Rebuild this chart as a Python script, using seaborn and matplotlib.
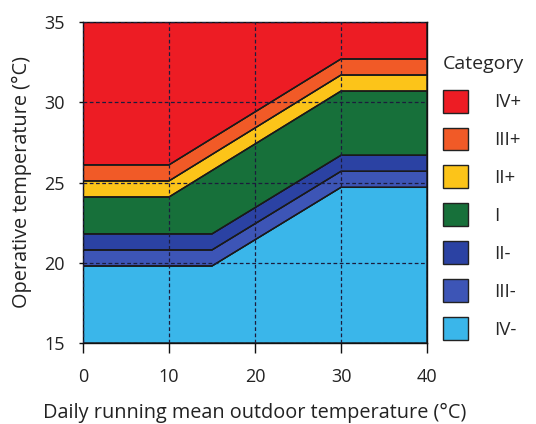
import numpy as np
import pandas as pd
import matplotlib
matplotlib.use("Agg")
import matplotlib.pyplot as plt
from matplotlib.patches import Patch
import seaborn as sns

# Category boundaries (operative temperature, °C) against running mean outdoor temperature
x_lower = [0, 15, 30, 40]
x_upper = [0, 10, 30, 40]
y_min = 15
y_max = 35
lim_IVm = [19.8, 19.8, 24.7, 24.7]   # IV- / III-
lim_IIIm = [20.8, 20.8, 25.7, 25.7]  # III- / II-
lim_IIm = [21.8, 21.8, 26.7, 26.7]   # II- / I
lim_I = [24.1, 24.1, 30.7, 30.7]     # I / II+
lim_IIp = [25.1, 25.1, 31.7, 31.7]   # II+ / III+
lim_IIIp = [26.1, 26.1, 32.7, 32.7]  # III+ / IV+

categories = ["IV-", "III-", "II-", "I", "II+", "III+", "IV+"]
colors = ["#3ab6ea", "#3d55b6", "#2b42a3", "#17703a", "#fcc419", "#f15a27", "#ed1c24"]

sns.set_theme(style="white")
plt.rcParams["font.family"] = ["Open Sans", "DejaVu Sans"]

boundaries = [
    ([0, 40], [y_min, y_min]),
    (x_lower, lim_IVm),
    (x_lower, lim_IIIm),
    (x_lower, lim_IIm),
    (x_upper, lim_I),
    (x_upper, lim_IIp),
    (x_upper, lim_IIIp),
    ([0, 40], [y_max, y_max]),
]

fig = plt.figure(figsize=(5.36, 4.24), dpi=100)
ax = fig.add_axes([83 / 536, 1 - 343 / 424, 344 / 536, 321 / 424])

for i, (cat, col) in enumerate(zip(categories, colors)):
    xb, yb = boundaries[i]
    xt, yt = boundaries[i + 1]
    px = list(xb) + list(xt)[::-1]
    py = list(yb) + list(yt)[::-1]
    ax.fill(px, py, facecolor=col, edgecolor="#1a1a1a", linewidth=1.0, zorder=1)

# Boundary outlines
for xb, yb in boundaries[1:-1]:
    sns.lineplot(x=xb, y=yb, ax=ax, color="#1a1a1a", linewidth=1.0, zorder=2,
                 estimator=None, sort=False)

ax.set_xlim(0, 40)
ax.set_ylim(y_min, y_max)
ax.set_xticks([0, 10, 20, 30, 40])
ax.set_yticks([15, 20, 25, 30, 35])
ax.set_axisbelow(False)
ax.grid(True, linestyle=(0, (3, 2)), color="#1c1c3c", linewidth=0.9)

for s in ax.spines.values():
    s.set_color("#111111")
    s.set_linewidth(1.0)

ax.tick_params(axis="x", which="major", direction="out", length=7, width=1.0,
               color="#111111", pad=11, labelsize=13, labelcolor="#222222")
ax.tick_params(axis="y", which="major", direction="out", length=3, width=1.0,
               color="#111111", pad=10, labelsize=13, labelcolor="#222222")
ax.tick_params(bottom=True, left=True)

ax.set_xlabel("Daily running mean outdoor temperature (°C)", fontsize=14.3,
              color="#222222", labelpad=12)
ax.set_ylabel("Operative temperature (°C)", fontsize=14.3, color="#222222", labelpad=9)

handles = [Patch(facecolor=c, edgecolor="#222222", linewidth=1.0, label=l)
           for l, c in zip(categories[::-1], colors[::-1])]
leg = fig.legend(handles=handles, title="Category", loc="upper left",
                 bbox_to_anchor=(443 / 536, 1 - 55 / 424), frameon=False,
                 fontsize=13.5, title_fontsize=14, handlelength=1.35, handleheight=1.5,
                 labelspacing=0.8, handletextpad=1.4, borderaxespad=0, borderpad=0)
leg._legend_box.align = "left"
leg._legend_box.sep = 12

fig.savefig("out.png", dpi=100)
